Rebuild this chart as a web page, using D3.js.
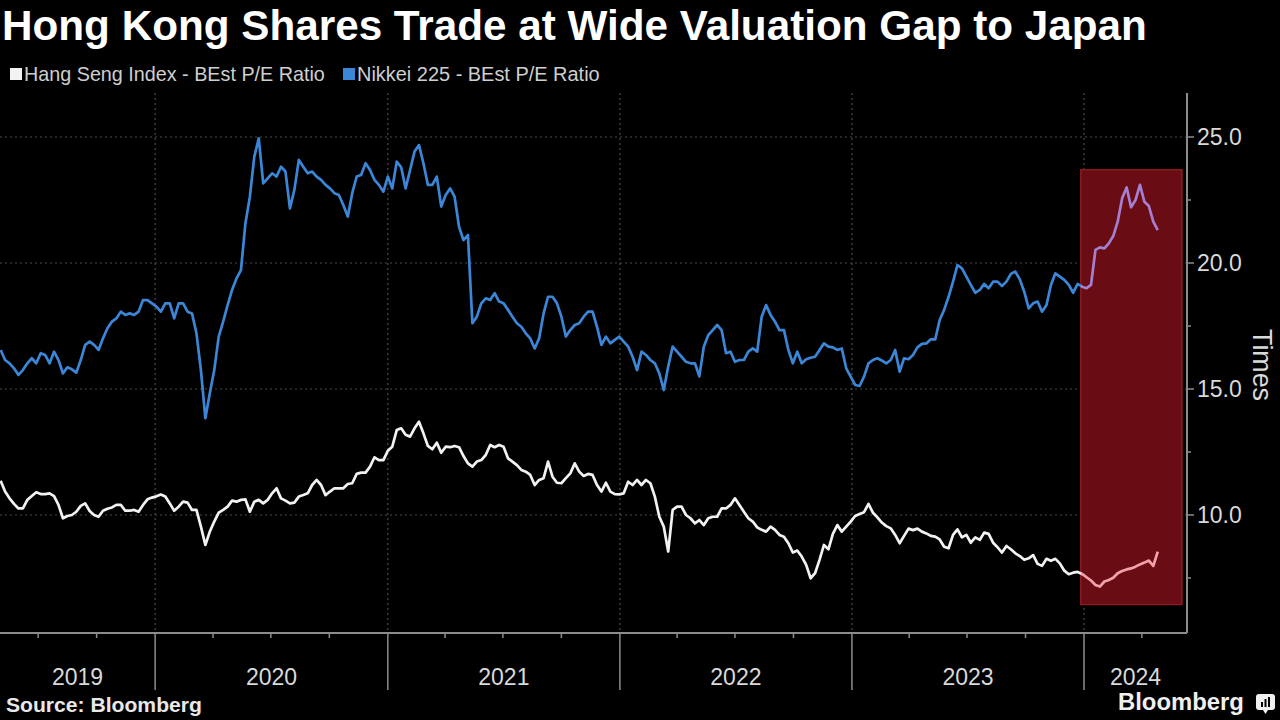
<!DOCTYPE html>
<html><head><meta charset="utf-8">
<script src="https://cdn.jsdelivr.net/npm/d3@7"></script>
<style>
html,body{margin:0;padding:0;background:#000;}
svg{display:block;}
</style></head><body>
<svg id="chart" width="1280" height="720"></svg>
<script>
// ---------------- DATA ----------------
const titleText = "Hong Kong Shares Trade at Wide Valuation Gap to Japan";
const seriesNames = ["Hang Seng Index - BEst P/E Ratio", "Nikkei 225 - BEst P/E Ratio"];
const yTicks = [10, 15, 20, 25];
const yMinorTicks = [7.5, 12.5, 17.5, 22.5];
const yearLabels = ["2019", "2020", "2021", "2022", "2023", "2024"];
const axisTitle = "Times";
const sourceText = "Source: Bloomberg";
const brandText = "Bloomberg";
// weekly observations (Fridays) from 3 May 2019 to 26 Apr 2024
const firstObs = new Date(2019, 4, 3);
const obsCount = 261;
const obsDates = d3.range(obsCount).map(i => d3.timeDay.offset(firstObs, 7 * i));

// Nikkei 225 BEst P/E (weekly, by calendar year)
const nikkei2019 = [16.55,16.15,16.02,15.82,15.56,15.75,16.02,16.22,16.02,16.42,16.35,16.02,16.48,16.15,15.62,15.86,15.78,15.65,16.15,16.75,16.88,16.75,16.55,17.01,17.41,17.67,17.8,18.07,17.94,18.0,17.94,18.07,18.53,18.53,18.4];
const nikkei2020 = [18.27,18.07,18.4,18.4,17.8,18.4,18.4,18.07,18.0,17.21,15.75,13.84,14.83,15.75,17.08,17.67,18.33,18.93,19.39,19.72,21.57,22.63,24.22,24.95,23.16,23.36,23.56,23.43,23.82,23.63,22.17,22.9,24.09,23.82,23.56,23.63,23.43,23.3,23.1,22.96,22.77,22.7,22.3,21.84,22.77,23.43,23.49,23.96,23.69,23.3,23.1,22.83];
const nikkei2021 = [23.43,22.96,24.02,23.8,22.96,23.69,24.42,24.68,23.96,23.1,23.1,23.43,22.24,22.7,22.96,22.63,21.44,20.91,21.11,17.61,17.87,18.4,18.6,18.53,18.8,18.47,18.4,18.14,17.87,17.61,17.47,17.21,17.01,16.61,17.01,18.0,18.66,18.66,18.4,17.87,17.08,17.34,17.54,17.61,17.87,18.07,18.07,17.47,16.75,17.08,16.81,16.95,17.08];
const nikkei2022 = [16.88,16.68,16.28,15.75,16.48,16.35,16.15,16.02,15.62,14.96,15.89,16.68,16.48,16.28,16.08,16.02,16.02,15.5,16.68,17.14,17.34,17.54,17.34,16.42,16.48,16.08,16.15,16.15,16.48,16.61,16.48,17.87,18.33,17.94,17.67,17.34,17.34,16.55,16.02,16.48,16.02,16.18,16.24,16.28,16.55,16.81,16.68,16.65,16.55,16.61,15.82,15.49];
const nikkei2023 = [15.16,15.12,15.49,16.02,16.15,16.22,16.13,16.02,16.15,16.55,15.69,16.22,16.18,16.35,16.65,16.79,16.81,16.97,16.97,17.74,18.14,18.66,19.26,19.92,19.79,19.46,19.13,18.82,18.93,19.17,19.0,19.26,19.26,19.09,19.26,19.57,19.66,19.35,18.86,18.2,18.4,18.47,18.07,18.33,19.13,19.59,19.46,19.33,19.13,18.82,19.17,19.06];
const nikkei2024 = [19.0,19.13,20.52,20.62,20.58,20.78,21.07,21.64,22.57,23.0,22.21,22.5,23.1,22.43,22.26,21.64,21.3];

// Hang Seng Index BEst P/E (weekly, by calendar year)
const hsi2019 = [11.36,10.93,10.66,10.44,10.26,10.26,10.6,10.75,10.9,10.83,10.83,10.86,10.75,10.4,9.87,9.96,10.0,10.13,10.36,10.46,10.16,10.0,9.93,10.17,10.25,10.3,10.4,10.4,10.17,10.17,10.2,10.13,10.4,10.62,10.69];
const hsi2020 = [10.74,10.81,10.73,10.46,10.17,10.33,10.53,10.49,10.2,10.2,9.54,8.81,9.34,9.74,10.09,10.2,10.33,10.57,10.53,10.6,10.62,10.13,10.53,10.6,10.46,10.6,10.86,11.06,10.66,10.57,10.46,10.49,10.73,10.79,10.86,11.19,11.39,11.19,10.79,10.93,11.06,11.06,11.06,11.23,11.26,11.63,11.68,11.68,11.92,12.29,12.18,12.18];
const hsi2021 = [12.55,12.71,13.37,13.44,13.18,13.11,13.44,13.7,13.24,12.74,12.61,12.87,12.47,12.71,12.69,12.74,12.69,12.34,12.05,11.92,12.12,12.18,12.38,12.78,12.69,12.78,12.71,12.25,12.12,11.98,11.79,11.72,11.59,11.19,11.39,11.46,12.12,11.52,11.28,11.26,11.46,11.65,12.05,11.72,11.55,11.63,11.59,11.19,10.93,11.28,10.93,10.83,10.82];
const hsi2022 = [10.86,11.32,11.19,11.39,11.19,11.39,11.26,10.73,9.93,9.54,8.55,10.2,10.33,10.33,10.0,9.87,9.67,9.8,9.6,9.87,9.93,9.93,10.26,10.26,10.4,10.66,10.4,10.13,9.87,9.74,9.51,9.41,9.34,9.54,9.41,9.21,9.14,8.88,8.51,8.59,8.35,8.02,7.49,7.69,8.22,8.81,8.64,9.25,9.6,9.34,9.54,9.74];
const hsi2023 = [9.96,10.04,10.11,10.44,10.09,9.91,9.7,9.56,9.47,9.21,8.88,9.17,9.46,9.4,9.46,9.34,9.27,9.17,9.14,9.03,8.74,8.68,9.21,9.43,9.11,9.21,8.9,9.11,9.01,9.3,9.25,8.9,8.72,8.51,8.77,8.64,8.48,8.37,8.22,8.28,8.41,8.06,7.98,8.26,8.18,8.26,8.08,7.79,7.65,7.71,7.74,7.66];
const hsi2024 = [7.53,7.4,7.22,7.16,7.36,7.42,7.51,7.69,7.78,7.84,7.88,7.95,8.04,8.11,8.19,7.98,8.55];

// highlighted window (annotation)
const highlightDates = [new Date(2023, 11, 27), new Date(2024, 5, 3)];
const highlightValues = [6.45, 23.7];

// ---------------- BUILD ----------------
const nikkei = [].concat(nikkei2019, nikkei2020, nikkei2021, nikkei2022, nikkei2023, nikkei2024);
const hsi = [].concat(hsi2019, hsi2020, hsi2021, hsi2022, hsi2023, hsi2024);
const nikkeiData = obsDates.map((d, i) => ({date: d, value: nikkei[i]})).filter(d => d.value != null);
const hsiData = obsDates.map((d, i) => ({date: d, value: hsi[i]})).filter(d => d.value != null);

const FONT = '"Liberation Sans", Arial, sans-serif';
const svg = d3.select("#chart");
svg.append("rect").attr("width", 1280).attr("height", 720).attr("fill", "#000");

const plotL = 0, plotR = 1187, plotT = 93, plotB = 633;
const x = d3.scaleTime().domain([new Date(2019, 4, 2), new Date(2024, 5, 11)]).range([plotL, plotR]);
const y = d3.scaleLinear().domain([5.317, 26.746]).range([plotB, plotT]);

function fit(sel, w) {
  const cur = sel.node().getComputedTextLength();
  const fs = parseFloat(sel.attr("font-size"));
  sel.attr("font-size", (fs * w / cur).toFixed(2));
  return sel;
}

// title
fit(svg.append("text").attr("x", 2).attr("y", 40).attr("font-family", FONT)
  .attr("font-weight", "bold").attr("font-size", 36).attr("fill", "#fff").text(titleText), 1145);

// legend
const legendColors = ["#f2f2f2", "#3b86d6"];
const legX = [10, 343], legW = [301, 243];
seriesNames.forEach((n, i) => {
  svg.append("rect").attr("x", legX[i]).attr("y", 68).attr("width", 12).attr("height", 12).attr("fill", legendColors[i]);
  fit(svg.append("text").attr("x", legX[i] + 14).attr("y", 81).attr("font-family", FONT)
    .attr("font-size", 18).attr("fill", "#cfcfcf").text(n), legW[i]);
});

// grid
const grid = svg.append("g");
grid.selectAll("line.h").data(yTicks).join("line")
  .attr("x1", plotL).attr("x2", plotR).attr("y1", d => y(d)).attr("y2", d => y(d))
  .attr("stroke", "#4a4a4a").attr("stroke-width", 1.2).attr("stroke-dasharray", "2,3");
const yearStarts = d3.timeYear.range(x.domain()[0], x.domain()[1]);
grid.selectAll("line.v").data(yearStarts).join("line")
  .attr("x1", d => x(d)).attr("x2", d => x(d)).attr("y1", plotT).attr("y2", plotB)
  .attr("stroke", "#4a4a4a").attr("stroke-width", 1.2).attr("stroke-dasharray", "2,3");

// highlight box (under lines)
const hx0 = x(highlightDates[0]), hx1 = x(highlightDates[1]);
const hy0 = y(highlightValues[1]), hy1 = y(highlightValues[0]);
svg.append("rect").attr("x", hx0).attr("y", hy0).attr("width", hx1 - hx0).attr("height", hy1 - hy0)
  .attr("fill", "#690c14").attr("stroke", "#8e1a23").attr("stroke-width", 1.5);

// lines
const LW = 2.7;
const line = d3.line().x(d => x(d.date)).y(d => y(d.value)).curve(d3.curveLinear);
svg.append("path").datum(nikkeiData).attr("d", line).attr("fill", "none")
  .attr("stroke", "#3b86d6").attr("stroke-width", LW).attr("stroke-linejoin", "round");
svg.append("path").datum(hsiData).attr("d", line).attr("fill", "none")
  .attr("stroke", "#f2f2f2").attr("stroke-width", LW).attr("stroke-linejoin", "round");

// tinted copies inside highlight
svg.append("clipPath").attr("id", "hl").append("rect")
  .attr("x", hx0).attr("y", hy0).attr("width", hx1 - hx0).attr("height", hy1 - hy0);
const tg = svg.append("g").attr("clip-path", "url(#hl)");
tg.append("rect").attr("x", hx0 + 1).attr("y", hy0 + 1).attr("width", hx1 - hx0 - 2).attr("height", hy1 - hy0 - 2).attr("fill", "#690c14");
tg.append("path").datum(nikkeiData).attr("d", line).attr("fill", "none")
  .attr("stroke", "#a57fd0").attr("stroke-width", LW).attr("stroke-linejoin", "round");
tg.append("path").datum(hsiData).attr("d", line).attr("fill", "none")
  .attr("stroke", "#f3a2ac").attr("stroke-width", LW).attr("stroke-linejoin", "round");

// axes
const axisColor = "#8c8c8c";
svg.append("line").attr("x1", plotL).attr("x2", plotR).attr("y1", plotB).attr("y2", plotB)
  .attr("stroke", axisColor).attr("stroke-width", 2);
svg.append("line").attr("x1", plotR).attr("x2", plotR).attr("y1", plotT).attr("y2", plotB)
  .attr("stroke", axisColor).attr("stroke-width", 2);

// x ticks: quarters short, years long
const quarters = d3.timeMonth.every(3).range(x.domain()[0], x.domain()[1]).filter(d => d.getMonth() !== 0);
svg.selectAll("line.q").data(quarters).join("line")
  .attr("x1", d => x(d)).attr("x2", d => x(d)).attr("y1", plotB).attr("y2", plotB + 5)
  .attr("stroke", axisColor).attr("stroke-width", 1.5);
svg.selectAll("line.yr").data(yearStarts).join("line")
  .attr("x1", d => x(d)).attr("x2", d => x(d)).attr("y1", plotB).attr("y2", 690)
  .attr("stroke", axisColor).attr("stroke-width", 1.5);
const bounds = [x.range()[0]].concat(yearStarts.map(x)).concat([x.range()[1]]);
svg.selectAll("text.year").data(yearLabels).join("text")
  .attr("x", (d, i) => (bounds[i] + bounds[i + 1]) / 2).attr("y", 685)
  .attr("text-anchor", "middle").attr("font-family", FONT).attr("font-size", 23)
  .attr("fill", "#d9d9d9").text(d => d);

// y axis
svg.selectAll("line.yt").data(yTicks).join("line")
  .attr("x1", plotR).attr("x2", plotR + 7).attr("y1", d => y(d)).attr("y2", d => y(d))
  .attr("stroke", axisColor).attr("stroke-width", 1.5);
svg.selectAll("line.ym").data(yMinorTicks).join("line")
  .attr("x1", plotR).attr("x2", plotR + 4).attr("y1", d => y(d)).attr("y2", d => y(d))
  .attr("stroke", axisColor).attr("stroke-width", 1.5);
svg.selectAll("text.yl").data(yTicks).join("text")
  .attr("x", 1197).attr("y", d => y(d)).attr("dy", "0.36em")
  .attr("font-family", FONT).attr("font-size", 23).attr("fill", "#d9d9d9")
  .text(d => d3.format(".1f")(d));
fit(svg.append("text").attr("transform", "translate(1253,365) rotate(90)")
  .attr("text-anchor", "middle").attr("font-family", FONT).attr("font-size", 25)
  .attr("fill", "#d9d9d9").text(axisTitle), 72);

// footer
fit(svg.append("text").attr("x", 6).attr("y", 712).attr("font-family", FONT)
  .attr("font-weight", "bold").attr("font-size", 17).attr("fill", "#e8e8e8").text(sourceText), 196);
fit(svg.append("text").attr("x", 1118).attr("y", 710).attr("font-family", FONT)
  .attr("font-weight", "bold").attr("font-size", 22).attr("fill", "#f0f0f0").text(brandText), 126);
const icon = svg.append("g").attr("transform", "translate(1256,694)");
icon.append("rect").attr("width", 19).attr("height", 16).attr("rx", 3).attr("fill", "#f0f0f0");
icon.append("path").attr("d", "M7,16 L9.5,20 L12,16 Z").attr("fill", "#f0f0f0");
[[5, 9, 5], [8.5, 6, 8], [12, 4, 10]].forEach(b => {
  icon.append("rect").attr("x", b[0]).attr("y", 13 - b[2]).attr("width", 2).attr("height", b[2]).attr("fill", "#000");
});
</script>
</body></html>
